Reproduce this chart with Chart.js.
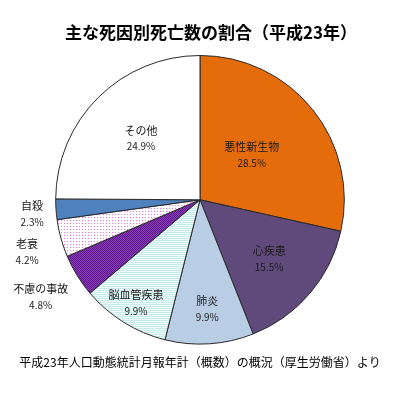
<!DOCTYPE html>
<html>
<head>
<meta charset="utf-8">
<script src="https://cdn.jsdelivr.net/npm/chart.js"></script>
<style>
  html, body { margin: 0; padding: 0; background: #fff; }
  #wrap { width: 400px; height: 400px; }
</style>
</head>
<body>
<div id="wrap"><canvas id="chart"></canvas></div>
<script>
// 主な死因別死亡数の割合（平成23年）
const causes = ['悪性新生物', '心疾患', '肺炎', '脳血管疾患', '不慮の事故', '老衰', '自殺', 'その他'];
const shares = [28.5, 15.5, 9.9, 9.9, 4.8, 4.2, 2.3, 24.9];

const titleText = '主な死因別死亡数の割合（平成23年）';
const sourceText = '平成23年人口動態統計月報年計（概数）の概況（厚生労働省）より';

const JP = '"Noto Sans CJK JP", "Noto Sans", sans-serif';

// small tile patterns for the hatched slices
function makePattern(w, h, paint) {
  const c = document.createElement('canvas');
  c.width = w;
  c.height = h;
  const g = c.getContext('2d');
  paint(g);
  return document.getElementById('chart').getContext('2d').createPattern(c, 'repeat');
}

const stripes = makePattern(1, 2, g => {
  g.fillStyle = '#c8ecec';
  g.fillRect(0, 0, 1, 1);
  g.fillStyle = '#eefafa';
  g.fillRect(0, 1, 1, 1);
});

const checker = makePattern(2, 2, g => {
  g.fillStyle = '#5c1888';
  g.fillRect(0, 0, 2, 2);
  g.fillStyle = '#8c3cbc';
  g.fillRect(1, 0, 1, 1);
  g.fillRect(0, 1, 1, 1);
});

const pinkDots = makePattern(3, 3, g => {
  g.fillStyle = '#ffffff';
  g.fillRect(0, 0, 3, 3);
  g.fillStyle = '#f070f0';
  g.fillRect(1, 1, 1, 1);
});

const fills = ['#e46c0a', '#604a7b', '#b9cde5', stripes, checker, pinkDots, '#4f81bd', '#ffffff'];

// label placement: radial factor of the outer radius, plus a small nudge
const labelPlace = [
  { f: 0.46, dx: 0, dy: -3 },
  { f: 0.63, dx: 0, dy: 0 },
  { f: 0.76, dx: 0, dy: 0 },
  { f: 0.84, dx: 0, dy: 0 },
  { f: 1.2, dx: -12, dy: 6 },
  { f: 1.2, dx: -6, dy: 6 },
  { f: 1.18, dx: 2, dy: 3 },
  { f: 0.58, dx: 0, dy: -2 }
];

// title drawn by hand so it can sit a little right of centre, as in the source
const titleDraw = {
  id: 'titleDraw',
  afterDraw(chart) {
    const ctx = chart.ctx;
    ctx.save();
    ctx.textAlign = 'center';
    ctx.textBaseline = 'middle';
    ctx.fillStyle = '#000';
    ctx.font = 'bold 17px ' + JP;
    ctx.fillText(titleText, chart.width / 2 + 11, 33);
    ctx.restore();
  }
};

const sliceLabels = {
  id: 'sliceLabels',
  afterDatasetsDraw(chart) {
    const ctx = chart.ctx;
    const meta = chart.getDatasetMeta(0);
    ctx.save();
    ctx.textAlign = 'center';
    ctx.textBaseline = 'middle';
    ctx.fillStyle = '#1a1a1a';
    meta.data.forEach((arc, i) => {
      const mid = (arc.startAngle + arc.endAngle) / 2;
      const p = labelPlace[i];
      const x = arc.x + Math.cos(mid) * arc.outerRadius * p.f + p.dx;
      const y = arc.y + Math.sin(mid) * arc.outerRadius * p.f + p.dy;
      ctx.font = '11px ' + JP;
      ctx.fillText(causes[i], x, y - 8);
      ctx.font = '10px ' + JP;
      ctx.fillText(shares[i].toFixed(1) + '%', x, y + 8);
    });
    ctx.restore();
  }
};

new Chart(document.getElementById('chart'), {
  type: 'pie',
  data: {
    labels: causes,
    datasets: [{
      data: shares,
      backgroundColor: fills,
      borderColor: '#2a2a2a',
      borderWidth: 1
    }]
  },
  options: {
    responsive: true,
    maintainAspectRatio: false,
    animation: false,
    layout: { padding: { top: 55, left: 0, right: 0, bottom: 0 } },
    plugins: {
      legend: { display: false },
      tooltip: { enabled: false },
      title: { display: false },
      subtitle: {
        display: true,
        position: 'bottom',
        text: sourceText,
        color: '#000',
        font: { family: JP, size: 12 },
        padding: { top: 11, bottom: 30 }
      }
    }
  },
  plugins: [sliceLabels, titleDraw]
});
</script>
</body>
</html>
